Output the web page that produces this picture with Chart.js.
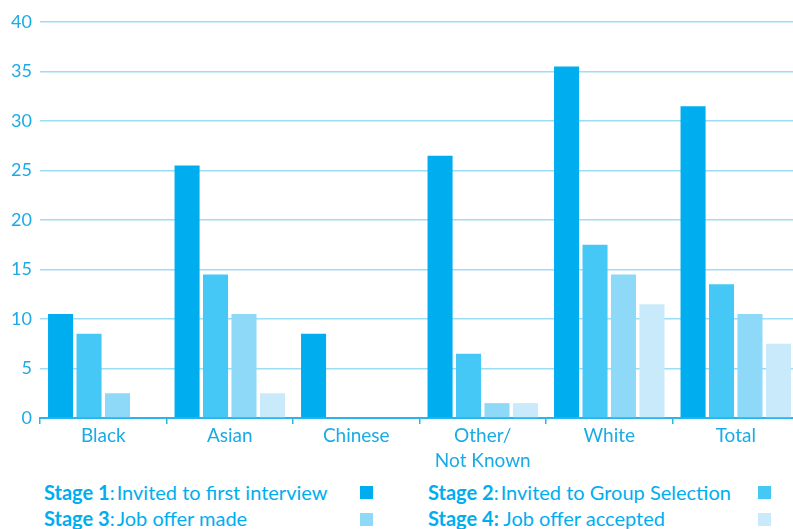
<!DOCTYPE html>
<html>
<head>
<meta charset="utf-8">
<script src="https://cdn.jsdelivr.net/npm/chart.js@4.4.1/dist/chart.umd.min.js"></script>
<style>
  html, body { margin: 0; padding: 0; background: #fff; overflow: hidden; width: 793px; height: 529px; }
  #wrap { position: absolute; left: 0; top: 0; width: 806px; height: 470px; }
  .legend { position: absolute; font-family: Lato, "Noto Sans", sans-serif; font-size: 20px; color: #00AEEF; white-space: nowrap; line-height: 22px; }
  .legend b { font-weight: 700; }
  .legend span { margin-left: 2px; }
  .sw { position: absolute; width: 13px; height: 13px; }
</style>
</head>
<body>
<div id="wrap"><canvas id="c" width="806" height="470"></canvas></div>
<div class="legend" style="left:44px; top:481px;"><b>Stage 1</b>:<span>Invited to first interview</span></div>
<div class="sw" style="left:360px; top:486px; background:#00AEEF;"></div>
<div class="legend" style="left:428px; top:481px;"><b>Stage 2</b>:<span>Invited to Group Selection</span></div>
<div class="sw" style="left:758px; top:486px; background:#45C8F5;"></div>
<div class="legend" style="left:44px; top:507px;"><b>Stage 3</b>:<span>Job offer made</span></div>
<div class="sw" style="left:360px; top:513px; background:#8ED8F8;"></div>
<div class="legend" style="left:428px; top:507px;"><b>Stage 4:</b> Job offer accepted</div>
<div class="sw" style="left:758px; top:513px; background:#C8EAFA;"></div>
<script>
const categories = ["Black", "Asian", "Chinese", ["Other/", "Not Known"], "White", "Total"];
const stage1 = [10.5, 25.5, 8.5, 26.5, 35.5, 31.5];
const stage2 = [8.5, 14.5, 0, 6.5, 17.5, 13.5];
const stage3 = [2.5, 10.5, 0, 1.5, 14.5, 10.5];
const stage4 = [0, 2.5, 0, 1.5, 11.5, 7.5];
const seriesNames = ["Stage 1", "Stage 2", "Stage 3", "Stage 4"];
const seriesColors = ["#00AEEF", "#45C8F5", "#8ED8F8", "#C8EAFA"];

const blue = "#1AABE6";
const fam = "Lato, 'Noto Sans', sans-serif";

new Chart(document.getElementById("c"), {
  type: "bar",
  data: {
    labels: categories,
    datasets: [stage1, stage2, stage3, stage4].map((d, i) => ({
      label: seriesNames[i],
      data: d,
      backgroundColor: seriesColors[i],
      borderWidth: 0,
      categoryPercentage: 0.9,
      barPercentage: 0.88
    }))
  },
  options: {
    responsive: false,
    animation: false,
    layout: { padding: { top: 22, right: 7, left: 0, bottom: 0 } },
    plugins: { legend: { display: false }, tooltip: { enabled: false } },
    scales: {
      x: {
        afterFit: s => { s.height = 52; },
        grid: { drawOnChartArea: false, drawTicks: true, tickLength: 6, color: "#29B5EC", lineWidth: 1.5, offset: true },
        border: { color: "#29B5EC", width: 2 },
        ticks: { color: blue, font: { family: fam, size: 19, lineHeight: 1.3 }, padding: 0, maxRotation: 0, autoSkip: false }
      },
      y: {
        min: 0, max: 40,
        afterFit: s => { s.width = 40; },
        grid: { color: "#9BDCF6", lineWidth: 1.5, drawTicks: false },
        border: { display: false },
        ticks: { stepSize: 5, color: blue, font: { family: fam, size: 18 }, padding: 8 }
      }
    }
  }
});
</script>
</body>
</html>
